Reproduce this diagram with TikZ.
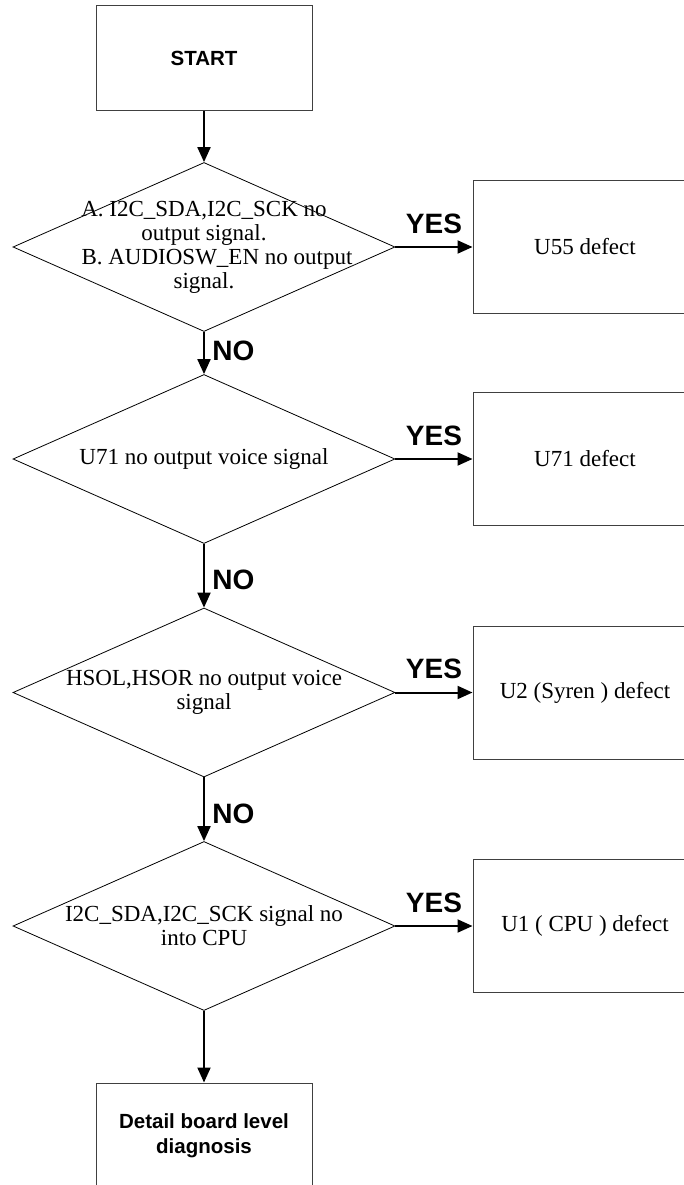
\documentclass[tikz,border=0pt]{standalone}
\usepackage{fontspec}
\setmainfont{Liberation Serif}
\setsansfont{Liberation Sans}
\usetikzlibrary{shapes.geometric, arrows.meta, positioning}
\tikzset{
	stepbox/.style={draw=black!75, line width=1pt, minimum width=216pt, minimum height=105pt, inner sep=0pt, align=center, font=\sffamily\bfseries\fontsize{20.5}{25}\selectfont},
	defectbox/.style={draw=black!75, line width=1pt, minimum width=224pt, minimum height=133pt, inner sep=0pt, font=\fontsize{23}{26}\selectfont},
	decision/.style={diamond, draw, line width=0.8pt, minimum width=382pt, minimum height=169pt, inner sep=0pt},
	question/.style={align=center, inner sep=0pt, font=\fontsize{23}{24}\selectfont},
	flow/.style={line width=2pt, -{Triangle[length=15pt,width=13pt]}},
	answer/.style={font=\sffamily\bfseries\fontsize{28}{30}\selectfont},
}

\begin{document}
\begin{tikzpicture}[x=1pt,y=1pt]
		\useasboundingbox (0,0) rectangle (684,-1185);
		\clip (0,0) rectangle (684,-1185);
		\node[stepbox] (start) at (204,-58.5) {START};
		\node[decision] (d1) at (204,-247) {};
		\node[question] (q1) at (d1.center) {A. I2C\_SDA,I2C\_SCK no\\output signal.\\\hspace*{26pt}B. AUDIOSW\_EN no output\\signal.};
		\node[defectbox] (u55) at (585,-247) {U55 defect};
		\node[decision] (d2) at (204,-459) {};
		\node[question] (q2) at (d2.center) {U71 no output voice signal};
		\node[defectbox] (u71) at (585,-459) {U71 defect};
		\node[decision] (d3) at (204,-692.5) {};
		\node[question] (q3) at (d3.center) {HSOL,HSOR no output voice\\signal};
		\node[defectbox] (u2) at (585,-692.5) {U2 (Syren ) defect};
		\node[decision] (d4) at (204,-926) {};
		\node[question] (q4) at (d4.center) {I2C\_SDA,I2C\_SCK signal no\\into CPU};
		\node[defectbox] (u1) at (585,-926) {U1 ( CPU ) defect};
		\node[stepbox] (detail) at (204,-1135.5) {Detail board level\\diagnosis};
		\draw[flow] (start) -- (d1);
		\draw[flow] (d1) -- node[answer, right=4pt, pos=0.45] {NO} (d2);
		\draw[flow] (d2) -- node[answer, right=4pt, pos=0.57] {NO} (d3);
		\draw[flow] (d3) -- node[answer, right=4pt, pos=0.57] {NO} (d4);
		\draw[flow] (d4) -- (detail);
		\draw[flow] (d1.east) -- node[answer, above=9pt] {YES} (u55.west);
		\draw[flow] (d2.east) -- node[answer, above=9pt] {YES} (u71.west);
		\draw[flow] (d3.east) -- node[answer, above=9pt] {YES} (u2.west);
		\draw[flow] (d4.east) -- node[answer, above=9pt] {YES} (u1.west);
	\end{tikzpicture}
\end{document}
